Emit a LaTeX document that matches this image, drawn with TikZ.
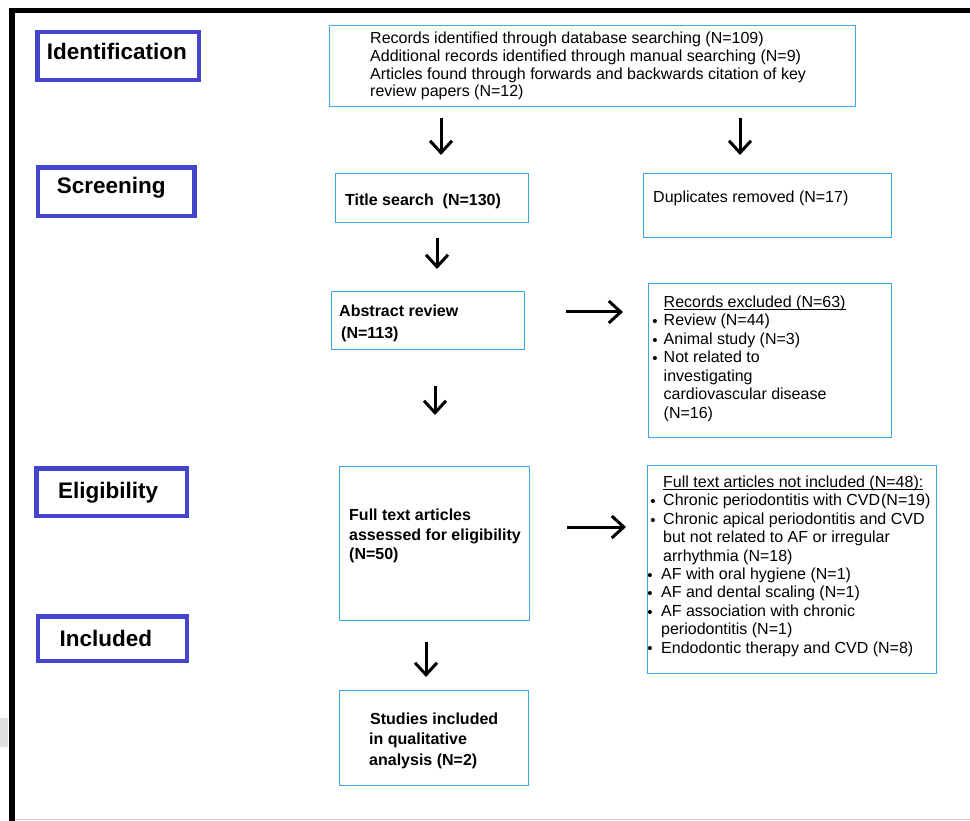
\documentclass[tikz,border=0pt]{standalone}
\usepackage{fontspec}
\setmainfont{Liberation Sans}
\usetikzlibrary{arrows.meta}
\definecolor{labblue}{RGB}{68,68,206}
\definecolor{boxblue}{RGB}{62,166,230}
\newcommand\bul[1][6pt]{\llap{\raisebox{-0.8pt}{\fontsize{15}{15}\selectfont •}\hspace{#1}}}
\newcommand\fs{\rule{0pt}{12pt}}
\newcommand\ulin[1]{\setbox0\hbox{#1}\rlap{\rule[-2.8pt]{\wd0}{0.9pt}}\box0}
\begin{document}
\begin{tikzpicture}[x=1pt,y=-1pt,
  lab/.style={draw=labblue,line width=4.5pt,inner sep=0pt,anchor=north west},
  box/.style={draw=boxblue,line width=1.4pt,inner sep=0pt,anchor=north west},
  labtext/.style={anchor=base west,inner sep=0pt,font=\fontsize{22.5}{26}\selectfont\bfseries},
  txt/.style={anchor=north west,inner sep=0pt,align=left,font=\fontsize{16}{18.4}\selectfont},
  btxt/.style={anchor=north west,inner sep=0pt,align=left,font=\fontsize{16}{19.5}\selectfont\bfseries},
  arr/.style={line width=3pt,-{Straight Barb[length=12pt,width=22pt]}},
]
\useasboundingbox (0,0) rectangle (970,821);
% frame
\fill[gray!25] (0,718) rectangle (8,747);
\draw[gray!40,line width=1pt] (15,819.5) -- (970,819.5);
\draw[line width=4.7pt] (9,10.3) -- (970,10.3);
\draw[line width=5.7pt] (12.2,8) -- (12.2,821);
% stage labels
\node[lab,minimum width=161.4pt,minimum height=47.7pt] (idl) at (35.3,30) {};
\node[lab,minimum width=156.5pt,minimum height=48.3pt] (scl) at (35.5,165.5) {};
\node[lab,minimum width=150.4pt,minimum height=47.4pt] (ell) at (34.3,466.3) {};
\node[lab,minimum width=149pt,minimum height=44.8pt] (inl) at (35.5,614) {};
\node[labtext] (tid) at (46.7,59.3) {Identification};
\node[labtext] (tsc) at (56.7,193.3) {Screening};
\node[labtext] (tel) at (58,498) {Eligibility};
\node[labtext] (tin) at (59.3,646.7) {Included};
% boxes
\node[box,minimum width=526pt,minimum height=81pt] (top) at (329,25) {};
\node[box,minimum width=193pt,minimum height=49pt] (ts) at (335,173) {};
\node[box,minimum width=248pt,minimum height=64pt] (dup) at (643,173) {};
\node[box,minimum width=193pt,minimum height=58pt] (ab) at (331,291) {};
\node[box,minimum width=243pt,minimum height=154pt] (rex) at (648,283) {};
\node[box,minimum width=190pt,minimum height=154pt] (ft) at (339,466) {};
\node[box,minimum width=289pt,minimum height=208pt] (ni) at (647,465) {};
\node[box,minimum width=189pt,minimum height=95pt] (st) at (339,690) {};
% texts
\node[txt,font=\fontsize{16}{17.8}\selectfont] (ttop) at (370,31.3) {\fs Records identified through database searching (N=109)\\Additional records identified through manual searching (N=9)\\Articles found through forwards and backwards citation of key\\review papers (N=12)};
\node[btxt] (tts) at (345,193.7) {\fs Title search\ \ (N=130)};
\node[txt] (tdup) at (653,190.7) {\fs Duplicates removed (N=17)};
\node[btxt,font=\fontsize{16}{21.5}\selectfont\bfseries] (tab) at (339,304.7) {\fs Abstract review\\\hspace*{2pt}(N=113)};
\node[txt,font=\fontsize{16}{18.5}\selectfont] (trex) at (663.5,295) {\fs\ulin{Records excluded (N=63)}\\\bul Review (N=44)\\\bul Animal study (N=3)\\\bul Not related to\\investigating\\cardiovascular disease\\(N=16)};
\node[btxt] (tft) at (349,508.5) {\fs Full text articles\\assessed for eligibility\\(N=50)};
\node[txt] (tni) at (663,475.3) {\fs\ulin{Full text articles not included (N=48):}\\\bul[7.5pt]Chronic periodontitis with CVD\hspace{1pt}(N=19)\\\bul[7.5pt]Chronic apical periodontitis and CVD\\but not related to AF or irregular\\arrhythmia (N=18)\\\hspace*{-2pt}\bul[8.5pt]AF with oral hygiene (N=1)\\\hspace*{-2pt}\bul[8.5pt]AF and dental scaling (N=1)\\\hspace*{-2pt}\bul[8.5pt]AF association with chronic\\\hspace*{-2pt}periodontitis (N=1)\\\hspace*{-2pt}\bul[8.5pt]Endodontic therapy and CVD (N=8)};
\node[btxt,font=\fontsize{16}{20.5}\selectfont\bfseries] (tst) at (370,712) {\fs Studies included\\\hspace*{-1pt}in qualitative\\\hspace*{-1pt}analysis (N=2)};
% arrows
\draw[arr,shorten <=11pt,shorten >=18pt] ([xshift=112pt]top.south west) -- ([xshift=106pt]ts.north west);
\draw[arr,shorten <=11pt,shorten >=18pt] ([xshift=411pt]top.south west) -- ([xshift=97pt]dup.north west);
\draw[arr,shorten <=15pt,shorten >=22pt] ([xshift=102pt]ts.south west) -- ([xshift=106pt]ab.north west);
\draw[arr,shorten <=41pt,shorten >=25pt] ([yshift=-21pt]ab.north east) -- ([yshift=-29pt]rex.north west);
\draw[arr,shorten <=36pt,shorten >=51pt] ([xshift=104pt]ab.south west) -- ([xshift=96pt]ft.north west);
\draw[arr,shorten <=37pt,shorten >=21pt] ([yshift=-61pt]ft.north east) -- ([yshift=-62pt]ni.north west);
\draw[arr,shorten <=21pt,shorten >=13pt] ([xshift=87pt]ft.south west) -- ([xshift=87pt]st.north west);
\end{tikzpicture}
\end{document}
